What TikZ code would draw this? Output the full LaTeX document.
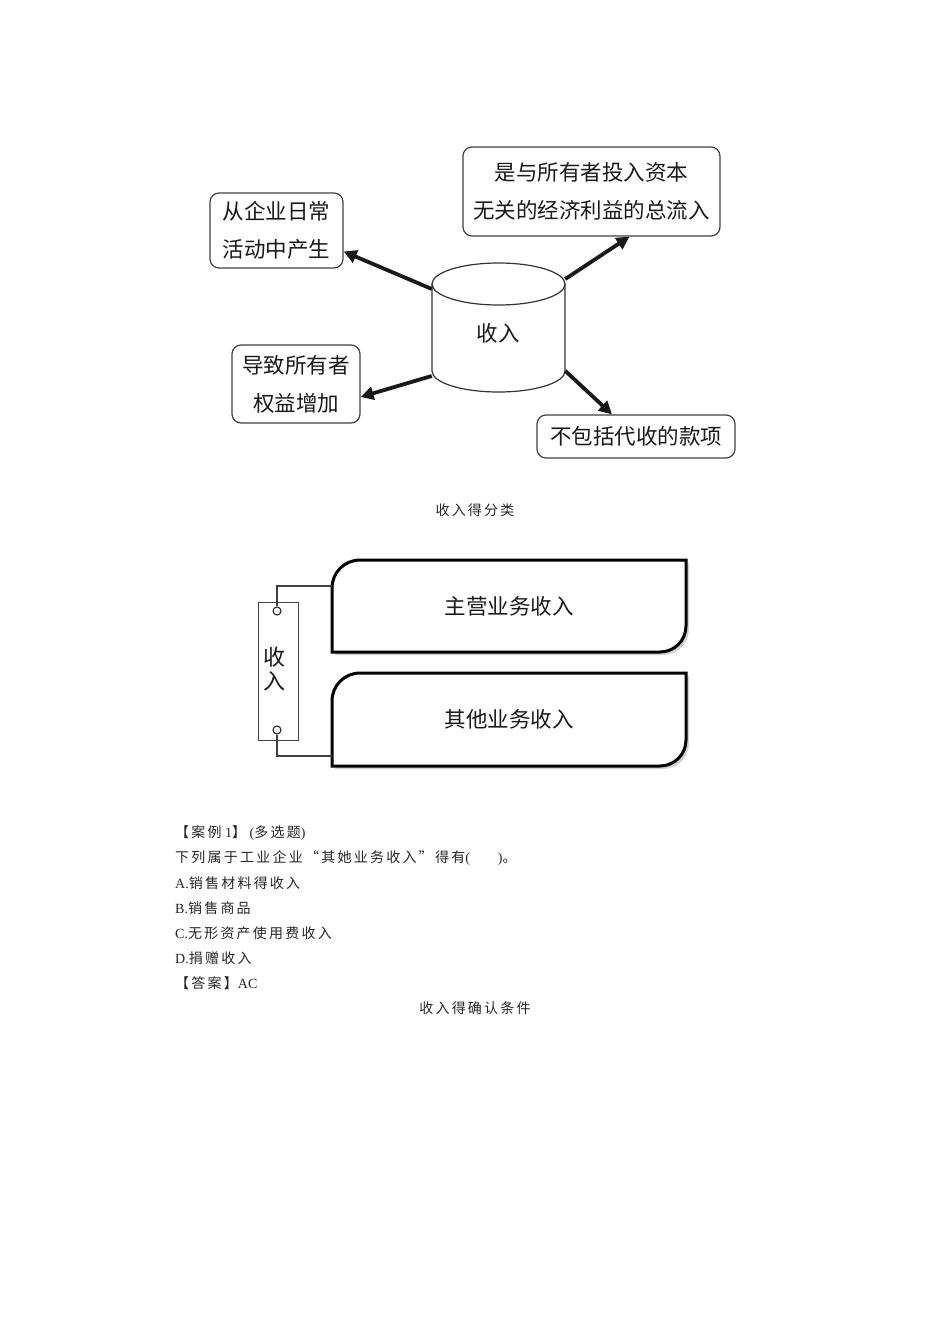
\documentclass[tikz,border=0pt]{standalone}
\usepackage{fontspec}
\setmainfont{Liberation Serif}
\newfontfamily\cjk{Noto Sans CJK SC}
\newfontfamily\cjks[LetterSpace=16]{Noto Sans CJK SC}
\newfontfamily\lat{Liberation Serif}
\usetikzlibrary{arrows.meta,shadows,calc}
\begin{document}
\begin{tikzpicture}[x=1pt,y=-1pt,
  lbl/.style={draw=black!75, line width=1.2pt, rounded corners=9pt, align=center,
    inner sep=0pt, text=black!90, font=\cjk\fontsize{21.5}{38}\selectfont},
  arr/.style={line width=3.8pt, black!90, -{Triangle[length=13pt,width=13pt]}},
  cylline/.style={draw=black!80, line width=1.2pt, fill=white},
  bigbox/.style={draw=black, line width=3pt, fill=white,
    drop shadow={opacity=0.3, shadow xshift=3pt, shadow yshift=-3pt, fill=black!60}},
  boxtxt/.style={inner sep=0pt, text=black!90, font=\cjk\fontsize{21.5}{24}\selectfont},
  conn/.style={draw=black!75, line width=1.1pt},
  txt/.style={anchor=west, inner sep=0pt, text=black!85, font=\cjks\fontsize{14}{16}\selectfont},
  captxt/.style={inner sep=0pt, text=black!85, font=\cjks\fontsize{14}{16}\selectfont}
]
\useasboundingbox (0,0) rectangle (950,1344);

% ---------- diagram 1 ----------
\path[cylline] (432,284) -- (432,371) arc[start angle=180, end angle=0, x radius=66.5, y radius=21] -- (565,284) -- cycle;
\draw[cylline] (498.5,284) ellipse [x radius=66.5, y radius=21];
\node[minimum width=133pt, minimum height=129pt, inner sep=0pt] (cyl) at (498.5,327.5) {};
\node[boxtxt] (cyltext) at (498,333) {收入};

\node[lbl, minimum width=133pt, minimum height=75pt] (b1) at (276.5,230.5) {从企业日常\\活动中产生};
\node[lbl, minimum width=257pt, minimum height=89pt] (b2) at (591.5,191.5) {是与所有者投入资本\\无关的经济利益的总流入};
\node[lbl, minimum width=128pt, minimum height=78pt] (b3) at (296,384) {导致所有者\\权益增加};
\node[lbl, minimum width=198pt, minimum height=43pt] (b4) at (636,436.5) {不包括代收的款项};

\draw[arr] (cyl.150) -- ([yshift=-21pt]b1.east);
\draw[arr] (cyl.36) -- ([xshift=38pt]b2.south);
\draw[arr] (cyl.216) -- ([yshift=-13pt]b3.east);
\draw[arr] (cyl.-33) -- ([xshift=-24pt]b4.north);

\node[captxt] (cap1) at (475,510) {收入得分类};

% ---------- diagram 2 ----------
\path[bigbox] (332,652) -- (332,588) .. controls (332,572.5) and (344.5,560) .. (360,560) -- (686,560) -- (686,626) .. controls (686,640.4) and (674.4,652) .. (660,652) -- cycle;
\path[bigbox] (332,766) -- (332,701) .. controls (332,685.5) and (344.5,673) .. (360,673) -- (686,673) -- (686,740) .. controls (686,754.4) and (674.4,766) .. (660,766) -- cycle;
\node[boxtxt, minimum width=354pt, minimum height=92pt] (boxA) at (509,606) {主营业务收入};
\node[boxtxt, minimum width=354pt, minimum height=93pt] (boxB) at (509,719.5) {其他业务收入};

\node[draw=black!75, line width=1pt, minimum width=40pt, minimum height=138pt, inner sep=0pt] (side) at (278,671) {};
\node[boxtxt, align=center, font=\cjk\fontsize{22}{24}\selectfont] (sidetext) at (274,669) {收\\入};
\node[circle, draw=black!85, line width=1.1pt, fill=white, minimum size=8pt, inner sep=0pt] (c1) at (277,611) {};
\node[circle, draw=black!85, line width=1.1pt, fill=white, minimum size=8pt, inner sep=0pt] (c2) at (277,730) {};
\draw[conn] (c1.north) |- ([yshift=20pt]boxA.west);
\draw[conn] (c2.south) |- ([yshift=-36.5pt]boxB.west);

% ---------- text ----------
\node[txt] (l1) at (175,833) {【案例{\lat\ 1}】{\lat\ (}多选题{\lat)}};
\node[txt] (l2) at (175,858) {下列属于工业企业“其她业务收入”得有{\lat(\hspace{28pt})}。};
\node[txt] (l3) at (175,883) {{\lat A.}销售材料得收入};
\node[txt] (l4) at (175,908) {{\lat B.}销售商品};
\node[txt] (l5) at (175,933) {{\lat C.}无形资产使用费收入};
\node[txt] (l6) at (175,958) {{\lat D.}捐赠收入};
\node[txt] (l7) at (175,983) {【答案】{\lat AC}};
\node[captxt] (cap2) at (475,1008) {收入得确认条件};
\end{tikzpicture}
\end{document}
